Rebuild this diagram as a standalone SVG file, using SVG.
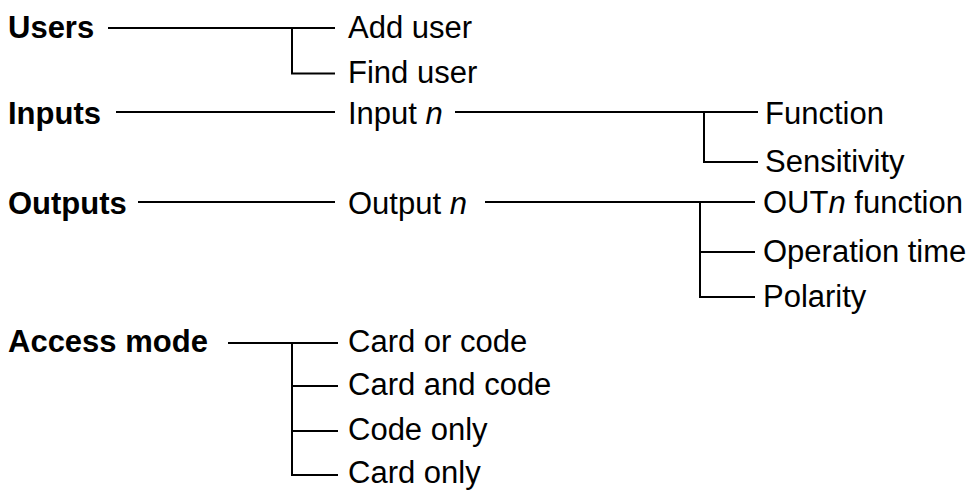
<svg xmlns="http://www.w3.org/2000/svg" width="974" height="490" viewBox="0 0 974 490">
<style>
text{font-family:"Liberation Sans",Arial,sans-serif;font-size:31px;fill:#000}
.b{font-weight:bold}
.i{font-style:italic}
#connectors path{fill:none;stroke:#000;stroke-width:2}
</style>
<rect width="974" height="490" fill="#fff"/>
<g id="connectors">
<path d="M108 28H335M292 28V73.5H335"/>
<path d="M116 112H335"/>
<path d="M455 112H758M704 112V162H758"/>
<path d="M138 202H335"/>
<path d="M485 202H755M700 202V297H755M700 252H755"/>
<path d="M228 343H338M292 343V475H338M292 386H338M292 431H338"/>
</g>
<g id="users"><text class="b" x="8" y="37.5">Users</text></g>
<g id="add-user"><text x="348" y="37.5">Add user</text></g>
<g id="find-user"><text x="348" y="83">Find user</text></g>
<g id="inputs"><text class="b" x="8" y="124">Inputs</text></g>
<g id="input-n"><text x="348" y="124">Input <tspan class="i">n</tspan></text></g>
<g id="function"><text x="765" y="123.5">Function</text></g>
<g id="sensitivity"><text x="765" y="172">Sensitivity</text></g>
<g id="outputs"><text class="b" x="8" y="214">Outputs</text></g>
<g id="output-n"><text x="348" y="214">Output <tspan class="i">n</tspan></text></g>
<g id="outn-function"><text x="763" y="213">OUT<tspan class="i">n</tspan> function</text></g>
<g id="operation-time"><text x="763" y="262">Operation time</text></g>
<g id="polarity"><text x="763" y="307">Polarity</text></g>
<g id="access-mode"><text class="b" x="8" y="352">Access mode</text></g>
<g id="card-or-code"><text x="348" y="352">Card or code</text></g>
<g id="card-and-code"><text x="348" y="395">Card and code</text></g>
<g id="code-only"><text x="348" y="440">Code only</text></g>
<g id="card-only"><text x="348" y="483">Card only</text></g>
</svg>
